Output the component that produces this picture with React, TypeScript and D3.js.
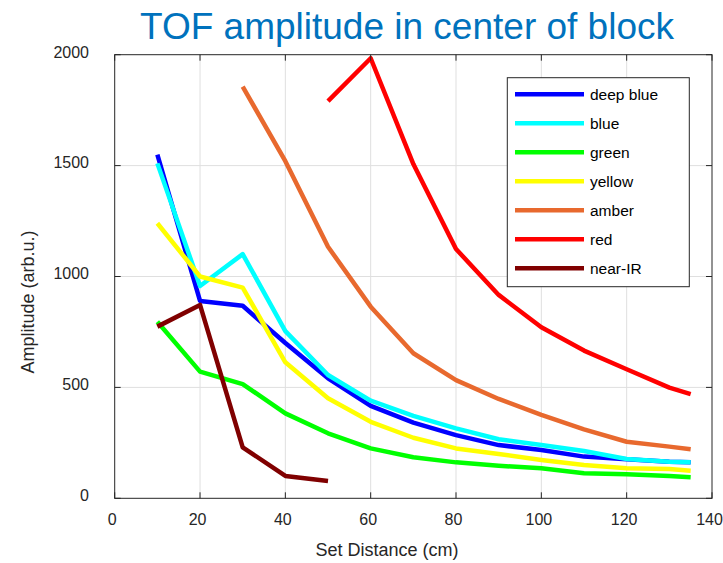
import React from "react";
import * as d3 from "d3";

// Set distances (cm) at which the amplitude was measured
const distances = [10, 20, 30, 40, 50, 60, 70, 80, 90, 100, 110, 120, 130, 135];

// Amplitudes per LED colour (null where that LED was not measured)
const deepBlue = [1550, 890, 868, 700, 541, 417, 341, 285, 240, 218, 188, 176, 165, 162];
const blue = [1510, 957, 1101, 754, 556, 440, 372, 315, 266, 240, 213, 177, 165, 162];
const green = [796, 571, 515, 383, 293, 225, 185, 162, 147, 135, 113, 108, 101, 95];
const yellow = [1240, 1000, 950, 613, 451, 345, 273, 225, 200, 173, 150, 135, 132, 124];
const amber = [null, null, 1856, 1520, 1134, 864, 654, 533, 448, 376, 311, 255, 233, 221];
const red = [null, null, null, null, 1791, 1984, 1507, 1124, 917, 771, 666, 582, 499, 470];
const nearIR = [774, 872, 230, 101, 78, null, null, null, null, null, null, null, null, null];

const seriesNames = ["deep blue", "blue", "green", "yellow", "amber", "red", "near-IR"];
const seriesValues = [deepBlue, blue, green, yellow, amber, red, nearIR];
const seriesColors = ["#0000FF", "#00FFFF", "#00FF00", "#FFFF00", "#E8692E", "#FF0000", "#800000"];

const xTicks = [0, 20, 40, 60, 80, 100, 120, 140];
const yTicks = [0, 500, 1000, 1500, 2000];

const W = 723;
const H = 563;
const FONT = "'Liberation Sans', Arial, Helvetica, sans-serif";

export default function App() {
  const x = d3.scaleLinear().domain([0, 140]).range([114.7, 712]);
  const y = d3.scaleLinear().domain([0, 2000]).range([498.3, 54.7]);
  const [x0, x1] = x.range();
  const [y0, y1] = y.range();

  const line = d3
    .line<[number, number | null]>()
    .defined((d) => d[1] !== null)
    .x((d) => x(d[0]))
    .y((d) => y(d[1] as number));

  const axisColor = "#262626";
  const tickLen = 6;

  const legendLeft = 507.3;
  const legendTop = 77.7;
  const legendW = 182;
  const legendH = 209;
  const rowY = (i: number) => 94.3 + i * 29;

  return (
    <svg
      width={W}
      height={H}
      style={{ position: "absolute", left: 0, top: 0, background: "#fff" }}
      fontFamily={FONT}
    >
      <rect x={0} y={0} width={W} height={H} fill="#fff" />

      {/* grid */}
      <g stroke="#DFDFDF" strokeWidth={1}>
        {xTicks.slice(1, -1).map((t) => (
          <line key={"gx" + t} x1={x(t)} x2={x(t)} y1={y0} y2={y1} />
        ))}
        {yTicks.slice(1, -1).map((t) => (
          <line key={"gy" + t} x1={x0} x2={x1} y1={y(t)} y2={y(t)} />
        ))}
      </g>

      {/* data lines */}
      <g fill="none" strokeWidth={4.5} strokeLinejoin="round" strokeLinecap="butt">
        {seriesValues.map((vals, i) => (
          <path
            key={seriesNames[i]}
            d={line(distances.map((d, j) => [d, vals[j]]) as [number, number | null][]) || ""}
            stroke={seriesColors[i]}
          />
        ))}
      </g>

      {/* axes box and ticks */}
      <g stroke={axisColor} strokeWidth={1} fill="none">
        <rect x={x0} y={y1} width={x1 - x0} height={y0 - y1} />
        {xTicks.map((t) => (
          <g key={"tx" + t}>
            <line x1={x(t)} x2={x(t)} y1={y0} y2={y0 - tickLen} />
            <line x1={x(t)} x2={x(t)} y1={y1} y2={y1 + tickLen} />
          </g>
        ))}
        {yTicks.map((t) => (
          <g key={"ty" + t}>
            <line x1={x0} x2={x0 + tickLen} y1={y(t)} y2={y(t)} />
            <line x1={x1} x2={x1 - tickLen} y1={y(t)} y2={y(t)} />
          </g>
        ))}
      </g>

      {/* tick labels */}
      <g fill={axisColor} fontSize={16}>
        {xTicks.map((t) => (
          <text key={"lx" + t} x={x(t) - 2.5} y={525} textAnchor="middle">
            {t}
          </text>
        ))}
        {yTicks.map((t) => (
          <text key={"ly" + t} x={89} y={y(t) + 2.8} textAnchor="end">
            {t}
          </text>
        ))}
      </g>

      {/* axis labels */}
      <text x={387} y={556} textAnchor="middle" fontSize={18} fill={axisColor}>
        Set Distance (cm)
      </text>
      <text
        transform="translate(34,302) rotate(-90)"
        textAnchor="middle"
        fontSize={18}
        fill={axisColor}
      >
        Amplitude (arb.u.)
      </text>

      {/* title */}
      <text x={407} y={39} textAnchor="middle" fontSize={37} fill="#0072BD">
        TOF amplitude in center of block
      </text>

      {/* legend */}
      <g>
        <rect
          x={legendLeft}
          y={legendTop}
          width={legendW}
          height={legendH}
          fill="#fff"
          stroke={axisColor}
          strokeWidth={1}
        />
        {seriesNames.map((name, i) => (
          <g key={"lg" + name}>
            <line x1={515} x2={584} y1={rowY(i)} y2={rowY(i)} stroke={seriesColors[i]} strokeWidth={4.5} />
            <text x={590} y={rowY(i) + 5.5} fontSize={15.5} fill="#000">
              {name}
            </text>
          </g>
        ))}
      </g>
    </svg>
  );
}
